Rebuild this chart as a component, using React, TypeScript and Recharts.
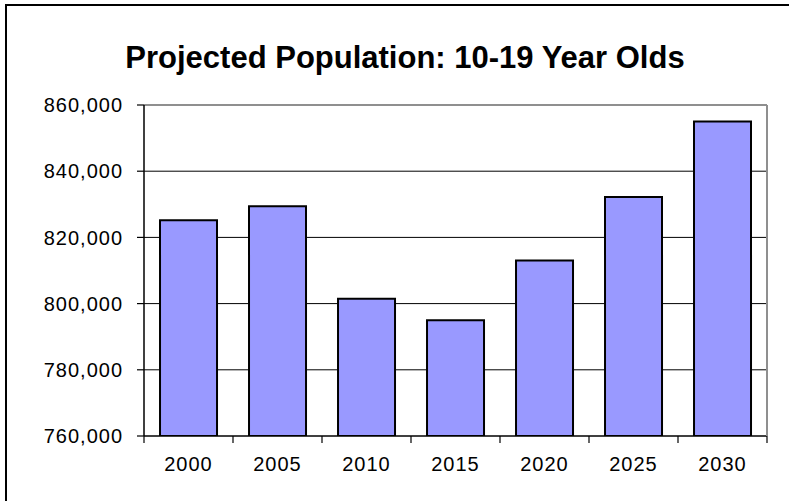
import React from 'react';
import { BarChart, Bar, XAxis, YAxis, CartesianGrid } from 'recharts';

const years = ['2000', '2005', '2010', '2015', '2020', '2025', '2030'];
const population = [825200, 829400, 801500, 795000, 813000, 832200, 855000];
const yTicks = [760000, 780000, 800000, 820000, 840000, 860000];
const gridValues = [780000, 800000, 820000, 840000];
const boundaryTicks = [0, 1, 2, 3, 4, 5, 6, 7];
const title = 'Projected Population: 10-19 Year Olds';

const data = years.map((year, i) => ({ year, population: population[i], slot: i }));

const FONT = '"Liberation Sans", Arial, Helvetica, sans-serif';
const tickStyle = { fill: '#000', fontSize: 20, fontFamily: FONT, letterSpacing: 1 };
const NoLabel = () => <g />;

export default function App() {
  return (
    <div style={{ position: 'absolute', left: 0, top: 0, width: 789, height: 501, overflow: 'hidden', background: '#fff' }}>
      <div style={{ position: 'absolute', left: 5, top: 4, width: 800, height: 520, border: '2px solid #000', boxSizing: 'border-box' }} />
      <div
        style={{
          position: 'absolute',
          left: 0,
          top: 42,
          width: 810,
          textAlign: 'center',
          fontFamily: FONT,
          fontWeight: 'bold',
          fontSize: 31,
          lineHeight: '31px',
          color: '#000',
        }}
      >
        {title}
      </div>
      <div style={{ position: 'absolute', left: 0, top: 0 }}>
        <BarChart
          width={789}
          height={501}
          data={data}
          margin={{ top: 104, right: 21, bottom: 0, left: 0 }}
          barCategoryGap="18%"
        >
          <CartesianGrid
            xAxisId={1}
            vertical={false}
            horizontalValues={gridValues}
            stroke="#000"
            strokeWidth={1}
          />
          <XAxis
            xAxisId={0}
            dataKey="slot"
            type="number"
            domain={[0, 7]}
            allowDataOverflow
            ticks={boundaryTicks}
            interval={0}
            tick={NoLabel}
            tickSize={7}
            tickLine={{ stroke: '#000', strokeWidth: 1.2 }}
            axisLine={{ stroke: '#000', strokeWidth: 1.5 }}
            height={1}
          />
          <XAxis
            xAxisId={1}
            dataKey="year"
            type="category"
            height={64}
            tick={tickStyle}
            tickLine={false}
            axisLine={false}
            tickSize={7}
            tickMargin={13}
            interval={0}
          />
          <XAxis
            xAxisId="top"
            orientation="top"
            dataKey="year"
            height={1}
            tick={NoLabel}
            tickLine={false}
            axisLine={{ stroke: '#8f8f8f', strokeWidth: 2 }}
          />
          <YAxis
            domain={[760000, 860000]}
            ticks={yTicks}
            width={144}
            tick={tickStyle}
            tickSize={7}
            tickMargin={14}
            tickLine={{ stroke: '#000', strokeWidth: 1.2 }}
            axisLine={{ stroke: '#000', strokeWidth: 1.5 }}
            tickFormatter={(v: number) => v.toLocaleString('en-US')}
            allowDataOverflow
          />
          <YAxis
            yAxisId="right"
            orientation="right"
            domain={[760000, 860000]}
            ticks={yTicks}
            width={1}
            tick={NoLabel}
            tickLine={false}
            axisLine={{ stroke: '#8f8f8f', strokeWidth: 2 }}
          />
          <Bar xAxisId={1} dataKey="population" fill="#9999FF" stroke="#000" strokeWidth={2} isAnimationActive={false} />
        </BarChart>
      </div>
    </div>
  );
}
